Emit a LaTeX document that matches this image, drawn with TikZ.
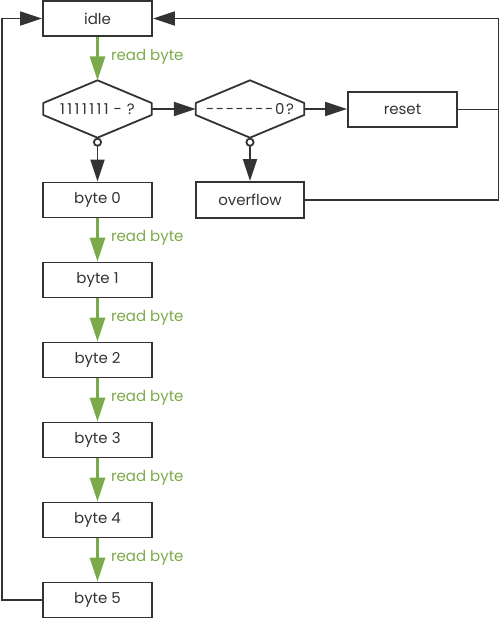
\documentclass[tikz,border=0pt]{standalone}
\usepackage{fontspec}
\setmainfont{Poppins}
\usepackage{tikz}
\usetikzlibrary{arrows.meta}

\definecolor{linegray}{HTML}{333333}
\definecolor{readgreen}{HTML}{7BAA4B}

\tikzset{
    statebox/.style={draw=linegray, line width=1.8pt, text=linegray, minimum width=109pt, minimum height=35pt, inner sep=0pt},
    decision/.style={text=linegray, minimum width=108pt, minimum height=57pt, inner sep=0pt},
    flow/.style={draw=linegray, line width=1.8pt, -{Triangle[length=22pt,width=14pt]}},
    readflow/.style={draw=readgreen, line width=3pt, -{Triangle[length=24pt,width=15pt]}},
    readlabel/.style={text=readgreen, anchor=west, inner sep=0pt}
}

\begin{document}
\begin{tikzpicture}[x=1pt, y=-1pt, font=\fontsize{15}{17}\selectfont]

    \useasboundingbox (0,0) rectangle (500,619);

    \newcommand{\byteCount}{5}

    \node[statebox] (idle) at (97.5,18.5) {idle};
    \node[decision] (ones) at (97.5,109) {1\,1\,1\,1\,1\,1\,1\,\,-\,\,?};
    \node[decision] (zero) at (250,109) {-\kern1.6pt-\kern1.6pt-\kern1.6pt-\kern1.6pt-\kern1.6pt-\kern1.6pt-\kern1.6pt0\kern1.6pt?};
    \node[statebox] (reset) at (402.5,109.5) {reset};
    \node[statebox, minimum width=108pt, minimum height=36pt] (overflow) at (250,200) {overflow};

    \foreach \i in {0,...,\byteCount} {
        \node[statebox] (byte\i) at (97.5,200+80*\i) {byte \i};
    }

    % hexagon outlines of the two checks
    \foreach \d in {ones,zero} {
        \draw[linegray, line width=1.8pt, line join=round] (\d.north) -- ([yshift=6pt]\d.east) -- ([yshift=-6pt]\d.east)
            -- (\d.south) -- ([yshift=-6pt]\d.west) -- ([yshift=6pt]\d.west) -- cycle;
    }

    \coordinate (leftTop) at (2,18.5);
    \coordinate (rightTop) at (498.5,18.5);

    \draw[readflow] (idle) -- (ones) node[readlabel, midway, xshift=12pt, yshift=2pt] {read byte};
    \draw[flow] (ones.east) -- (zero.west);
    \draw[flow] (zero.east) -- (reset.west |- zero.east);
    \draw[flow, {Circle[open,length=9pt,width=9pt]}-{Triangle[length=22pt,width=14pt]}] (ones.south) -- (byte0);
    \draw[flow, {Circle[open,length=9pt,width=9pt]}-{Triangle[length=22pt,width=14pt]}] (zero.south) -- (overflow);

    \foreach \i [evaluate=\i as \j using int(\i+1)] in {0,...,4} {
        \draw[readflow] (byte\i) -- (byte\j) node[readlabel, midway, xshift=12pt, yshift=2pt] {read byte};
    }

    \draw[linegray, line width=1.8pt] (reset.east) -- (reset.east -| rightTop); % back from reset
    \draw[flow] (overflow.east) -| (rightTop) -- (idle.east); % back from overflow
    \draw[flow] (byte5.west) -| (leftTop) -- (idle.west); % after the last byte

\end{tikzpicture}
\end{document}
